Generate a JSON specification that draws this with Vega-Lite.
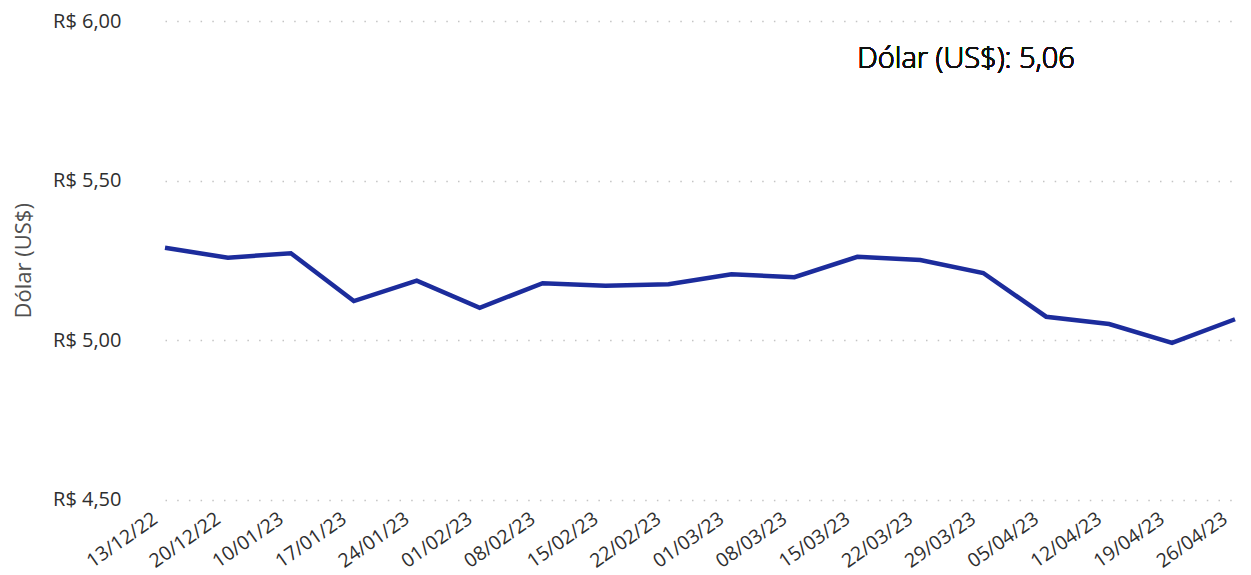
{
  "$schema": "https://vega.github.io/schema/vega-lite/v6.json",
  "autosize": {"type": "none"},
  "padding": {"left": 141, "top": 21, "right": 3, "bottom": 75},
  "width": 1107,
  "height": 478.5,
  "background": "white",
  "config": {
    "view": {"stroke": null},
    "font": "Open Sans"
  },
  "data": {
    "values": [
      {"date": "13/12/22", "value": 5.289},
      {"date": "20/12/22", "value": 5.258},
      {"date": "10/01/23", "value": 5.272},
      {"date": "17/01/23", "value": 5.122},
      {"date": "24/01/23", "value": 5.186},
      {"date": "01/02/23", "value": 5.101},
      {"date": "08/02/23", "value": 5.178},
      {"date": "15/02/23", "value": 5.170},
      {"date": "22/02/23", "value": 5.175},
      {"date": "01/03/23", "value": 5.206},
      {"date": "08/03/23", "value": 5.197},
      {"date": "15/03/23", "value": 5.261},
      {"date": "22/03/23", "value": 5.251},
      {"date": "29/03/23", "value": 5.210},
      {"date": "05/04/23", "value": 5.073},
      {"date": "12/04/23", "value": 5.050},
      {"date": "19/04/23", "value": 4.991},
      {"date": "26/04/23", "value": 5.065}
    ]
  },
  "layer": [
    {
      "mark": {"type": "line", "color": "#1c2c9c", "strokeWidth": 4.5, "strokeJoin": "miter"},
      "encoding": {
        "x": {
          "field": "date", "type": "ordinal", "sort": null,
          "scale": {"type": "point", "range": [24, 1094], "padding": 0},
          "axis": {
            "title": null, "domain": false, "ticks": false, "grid": false,
            "labelAngle": -35, "labelAlign": "right", "labelBaseline": "middle",
            "labelPadding": 17, "labelOffset": -10, "labelFontSize": 19.5, "labelColor": "#2e2e2e",
            "labelFont": "Open Sans"
          }
        },
        "y": {
          "field": "value", "type": "quantitative",
          "scale": {"domain": [4.5, 6.0], "nice": false, "zero": false},
          "axis": {
            "title": "Dólar (US$)", "titleFontSize": 22, "titleFontWeight": "normal",
            "titleColor": "#505050", "titlePadding": 17, "titleFont": "Open Sans",
            "values": [4.5, 5.0, 5.5, 6.0],
            "labelExpr": "'R$ ' + replace(format(datum.value, '.2f'), '.', ',')",
            "domain": false, "ticks": false, "labelPadding": 20,
            "labelFontSize": 20, "labelColor": "#2e2e2e", "labelFont": "Open Sans",
            "grid": true, "gridColor": "#c4c4c4", "gridWidth": 1.5, "gridDash": [1.5, 10.2]
          }
        }
      }
    },
    {
      "mark": {"type": "text", "text": "Dólar (US$): 5,06", "align": "left", "baseline": "alphabetic", "fontSize": 29, "fontWeight": 300, "font": "Open Sans", "fill": "#111111", "strokeWidth": 0},
      "encoding": {
        "x": {"datum": "15/03/23", "type": "ordinal"},
        "y": {"datum": 5.854, "type": "quantitative"}
      }
    }
  ]
}
